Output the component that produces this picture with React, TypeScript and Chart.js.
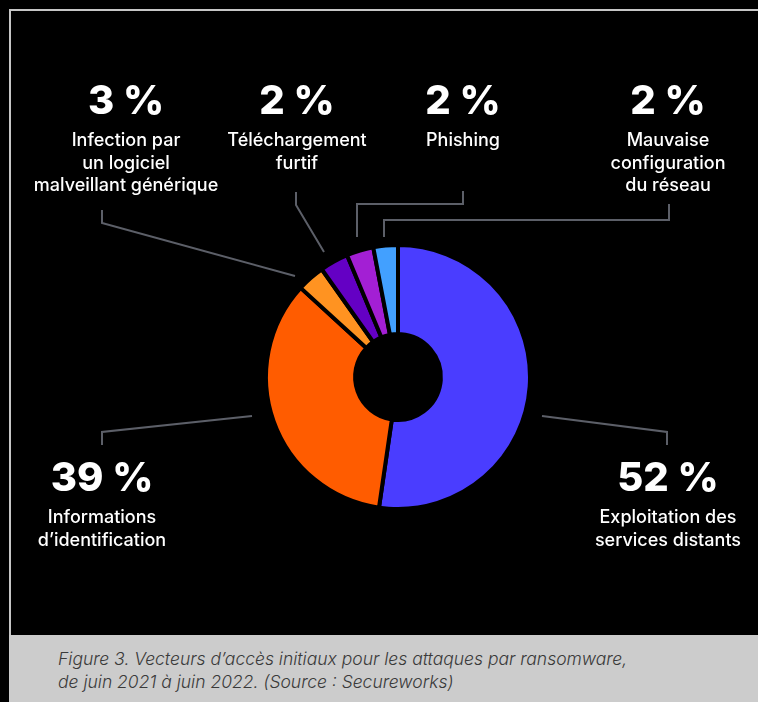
import React, { useEffect, useRef } from 'react';
import { Chart, registerables } from 'chart.js';

Chart.register(...registerables);

const categories = [
  'Exploitation des services distants',
  'Informations d’identification',
  'Infection par un logiciel malveillant générique',
  'Téléchargement furtif',
  'Phishing',
  'Mauvaise configuration du réseau',
];
// slice sizes as drawn in the picture (the printed labels are rounded source figures)
const values = [52.3, 34.5, 3.4, 3.5, 3.3, 3.0];
const colors = ['#4a3dff', '#ff5c00', '#ff9321', '#6400c4', '#a31fd4', '#42a0ff'];
const valueLabels = ['52 %', '39 %', '3 %', '2 %', '2 %', '2 %'];
const labelLines = [
  ['Exploitation des', 'services distants'],
  ['Informations', 'd’identification'],
  ['Infection par', 'un logiciel', 'malveillant générique'],
  ['Téléchargement', 'furtif'],
  ['Phishing'],
  ['Mauvaise', 'configuration', 'du réseau'],
];
const captionLines = [
  'Figure 3. Vecteurs d’accès initiaux pour les attaques par ransomware,',
  'de juin 2021 à juin 2022. (Source : Secureworks)',
];

// layout (label group centre x, top y)
const labelPos = [
  [668, 457],
  [102, 457],
  [126, 80],
  [297, 80],
  [463, 80],
  [668, 80],
];
const leaderPaths = [
  '542,416 667,432 667,445',
  '252,416 102,432 102,445',
  '102,210 102,223 295,276',
  '296,192 296,205 324,252',
  '463,191 463,204 357,204 357,237',
  '669,204 669,220 384,220 384,237',
];

export default function App() {
  const ref = useRef<HTMLCanvasElement | null>(null);
  useEffect(() => {
    if (!ref.current) return;
    const chart = new Chart(ref.current, {
      type: 'doughnut',
      data: {
        labels: categories,
        datasets: [
          {
            data: values,
            backgroundColor: colors,
            borderColor: '#000',
            borderWidth: 4,
          },
        ],
      },
      options: {
        animation: false,
        responsive: false,
        maintainAspectRatio: false,
        cutout: '32.5%',
        layout: { padding: { left: 264, right: 226, top: 243, bottom: 191 } },
        plugins: { legend: { display: false }, tooltip: { enabled: false } },
      },
    });
    return () => chart.destroy();
  }, []);

  const font = 'Inter, "DejaVu Sans", sans-serif';
  return (
    <div style={{ position: 'fixed', left: 0, top: 0, width: 758, height: 702, background: '#000', overflow: 'hidden' }}>
      <div
        style={{
          position: 'absolute',
          left: 9,
          top: 9,
          width: 760,
          height: 700,
          borderLeft: '2px solid #c6c6c6',
          borderTop: '2px solid #c6c6c6',
          boxSizing: 'border-box',
        }}
      />
      <canvas ref={ref} width={758} height={702} style={{ position: 'absolute', left: 0, top: 0, width: 758, height: 702 }} />
      <svg width={758} height={702} style={{ position: 'absolute', left: 0, top: 0 }}>
        {leaderPaths.map((p, i) => (
          <polyline key={i} points={p} fill="none" stroke="#5c5f68" strokeWidth={2} />
        ))}
      </svg>
      {labelPos.map(([cx, top], i) => (
        <div
          key={i}
          style={{
            position: 'absolute',
            left: cx - 150,
            top,
            width: 300,
            textAlign: 'center',
            color: '#fff',
            fontFamily: font,
          }}
        >
          <div style={{ fontSize: 40, lineHeight: '40px', fontWeight: 800, letterSpacing: 0 }}>{valueLabels[i]}</div>
          <div style={{ marginTop: 49, fontSize: 18, lineHeight: '22.5px', fontWeight: 500, position: 'absolute', left: 0, right: 0, top: 0 }}>
            {labelLines[i].map((l, j) => (
              <div key={j}>{l}</div>
            ))}
          </div>
        </div>
      ))}
      <div
        style={{
          position: 'absolute',
          left: 9,
          top: 635,
          width: 760,
          height: 70,
          background: '#cccccc',
          boxSizing: 'border-box',
          paddingLeft: 49,
          paddingTop: 12,
          color: '#3a3a3a',
          fontFamily: font,
          fontStyle: 'italic',
          fontWeight: 300,
          fontSize: 17.5,
          lineHeight: '23px',
        }}
      >
        {captionLines.map((l, j) => (
          <div key={j}>{l}</div>
        ))}
      </div>
    </div>
  );
}
